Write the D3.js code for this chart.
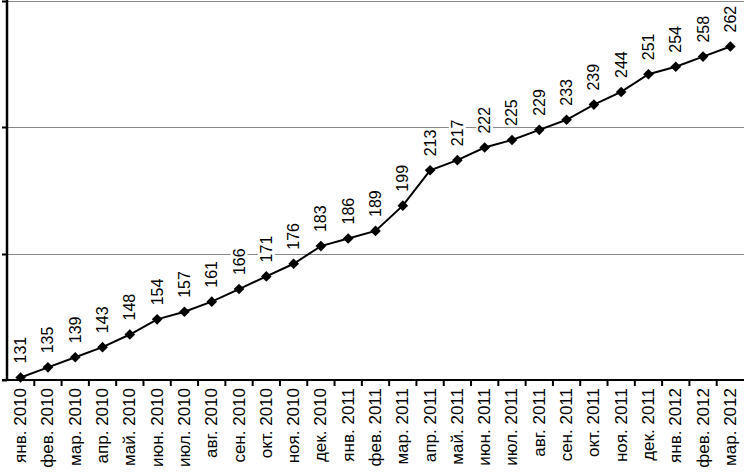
<!DOCTYPE html>
<html><head><meta charset="utf-8">
<script src="https://cdn.jsdelivr.net/npm/d3@7"></script>
<style>body{margin:0;background:#fff}svg{display:block}</style>
</head><body>
<svg id="c" width="744" height="475"></svg>
<script>
const categories = ["янв. 2010","фев. 2010","мар. 2010","апр. 2010","май. 2010","июн. 2010","июл. 2010","авг. 2010","сен. 2010","окт. 2010","ноя. 2010","дек. 2010","янв. 2011","фев. 2011","мар. 2011","апр. 2011","май. 2011","июн. 2011","июл. 2011","авг. 2011","сен. 2011","окт. 2011","ноя. 2011","дек. 2011","янв. 2012","фев. 2012","мар. 2012"];
const values = [131,135,139,143,148,154,157,161,166,171,176,183,186,189,199,213,217,222,225,229,233,239,244,251,254,258,262];
const yTicks = [130,180,230,280];

(function () {
const svg = d3.select("#c");
const pLeft = 7, pRight = 744, pTop = 1, pBottom = 380;
const x = d3.scaleBand().domain(categories).range([pLeft, pRight]).padding(0);
const y = d3.scaleLinear().domain([130, 280]).range([pBottom, pTop]);

// gridlines
svg.append("g").selectAll("line").data(yTicks.slice(1)).join("line")
  .attr("x1", pLeft).attr("x2", pRight)
  .attr("y1", d => Math.round(y(d)) + 0.5).attr("y2", d => Math.round(y(d)) + 0.5)
  .attr("stroke", "#888").attr("stroke-width", 1.2);

// y axis ticks
svg.append("g").selectAll("line").data(yTicks).join("line")
  .attr("x1", 2).attr("x2", pLeft)
  .attr("y1", d => Math.round(y(d)) + 0.5).attr("y2", d => Math.round(y(d)) + 0.5)
  .attr("stroke", "#000").attr("stroke-width", 2);

// x axis ticks (category boundaries)
const bounds = categories.map(c => x(c)).concat([pRight]);
svg.append("g").selectAll("line").data(bounds.slice(1, -1)).join("line")
  .attr("x1", d => d).attr("x2", d => d)
  .attr("y1", pBottom).attr("y2", pBottom + 6)
  .attr("stroke", "#000").attr("stroke-width", 2);

// axes lines
svg.append("line").attr("x1", 2).attr("x2", pRight).attr("y1", pBottom).attr("y2", pBottom)
  .attr("stroke", "#000").attr("stroke-width", 2);
svg.append("line").attr("x1", pLeft).attr("x2", pLeft).attr("y1", 0).attr("y2", pBottom + 1)
  .attr("stroke", "#000").attr("stroke-width", 2.5);

// x labels
const cx = d => x(d) + x.bandwidth() / 2;
svg.append("g").selectAll("text").data(categories).join("text")
  .attr("transform", d => `translate(${cx(d)},${pBottom + 8}) rotate(-90)`)
  .attr("text-anchor", "end").attr("dominant-baseline", "central")
  .attr("font-family", "Liberation Sans, Arial, sans-serif").attr("font-size", 17)
  .attr("fill", "#000").text(d => d);

// line
const pts = categories.map((c, i) => [cx(c), y(values[i])]);
svg.append("path").attr("d", d3.line()(pts)).attr("fill", "none")
  .attr("stroke", "#000").attr("stroke-width", 2);

// value labels with white background
const lg = svg.append("g");
pts.forEach((p, i) => {
  const g = lg.append("g").attr("transform", `translate(${p[0]},${p[1] - 14}) rotate(-90)`);
  const t = g.append("text").attr("text-anchor", "start").attr("dominant-baseline", "central")
    .attr("font-family", "Liberation Sans, Arial, sans-serif").attr("font-size", 16)
    .attr("fill", "#000").text(values[i]);
  const bb = t.node().getBBox();
  g.insert("rect", "text").attr("x", bb.x - 1).attr("y", bb.y).attr("width", bb.width + 2).attr("height", bb.height)
    .attr("fill", "#fff");
});

// markers
svg.append("g").selectAll("path").data(pts).join("path")
  .attr("transform", d => `translate(${d[0]},${d[1]})`)
  .attr("d", d3.symbol(d3.symbolDiamond2, 72)())
  .attr("fill", "#000");
})();
</script>
</body></html>
